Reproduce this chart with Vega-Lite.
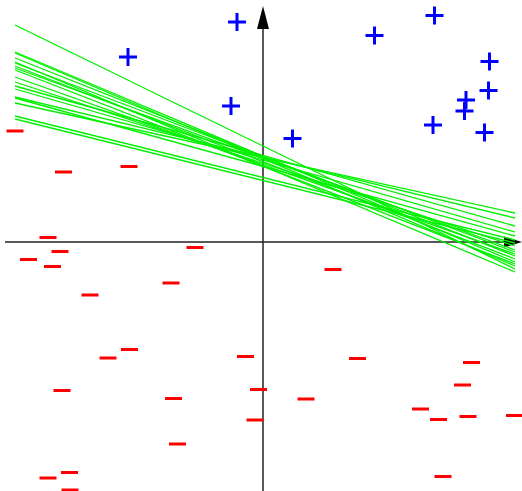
{
  "$schema": "https://vega.github.io/schema/vega-lite/v6.json",
  "width": 522,
  "height": 491,
  "autosize": {"type": "none"},
  "padding": 0,
  "background": "white",
  "config": {"view": {"stroke": null}},
  "datasets": {
    "axes": [
      {"x": -5.16, "x2": 4.84, "y": 0, "y2": 0},
      {"x": 0, "x2": 0, "y": -4.98, "y2": 4.28}
    ],
    "arrowUp": [{"x": 0, "y": 4.49}],
    "arrowRight": [{"x": 5.0, "y": 0}],
    "lines": [
      {"id": 1, "x": -4.96, "y": 4.34}, {"id": 1, "x": 5.04, "y": -0.54},
      {"id": 2, "x": -4.96, "y": 3.80}, {"id": 2, "x": 5.04, "y": -0.40},
      {"id": 3, "x": -4.96, "y": 3.78}, {"id": 3, "x": 5.04, "y": -0.48},
      {"id": 4, "x": -4.96, "y": 3.68}, {"id": 4, "x": 5.04, "y": -0.28},
      {"id": 5, "x": -4.96, "y": 3.60}, {"id": 5, "x": 5.04, "y": -0.60},
      {"id": 6, "x": -4.96, "y": 3.58}, {"id": 6, "x": 5.04, "y": -0.20},
      {"id": 7, "x": -4.96, "y": 3.52}, {"id": 7, "x": 5.04, "y": -0.34},
      {"id": 8, "x": -4.96, "y": 3.48}, {"id": 8, "x": 5.04, "y": -0.16},
      {"id": 9, "x": -4.96, "y": 3.44}, {"id": 9, "x": 5.04, "y": -0.44},
      {"id": 10, "x": -4.96, "y": 3.30}, {"id": 10, "x": 5.04, "y": -0.24},
      {"id": 11, "x": -4.96, "y": 3.20}, {"id": 11, "x": 5.04, "y": -0.08},
      {"id": 12, "x": -4.96, "y": 3.12}, {"id": 12, "x": 5.04, "y": 0.32},
      {"id": 13, "x": -4.96, "y": 3.06}, {"id": 13, "x": 5.04, "y": 0.20},
      {"id": 14, "x": -4.96, "y": 2.90}, {"id": 14, "x": 5.04, "y": 0.48},
      {"id": 15, "x": -4.96, "y": 2.88}, {"id": 15, "x": 5.04, "y": 0.12},
      {"id": 16, "x": -4.96, "y": 2.78}, {"id": 16, "x": 5.04, "y": 0.58},
      {"id": 17, "x": -4.96, "y": 2.52}, {"id": 17, "x": 5.04, "y": 0.04},
      {"id": 18, "x": -4.96, "y": 2.46}, {"id": 18, "x": 5.04, "y": -0.02}
    ],
    "plus": [
      {"x": -0.52, "y": 4.40}, {"x": -2.70, "y": 3.70}, {"x": -0.64, "y": 2.72},
      {"x": 3.43, "y": 4.53}, {"x": 2.23, "y": 4.13}, {"x": 4.53, "y": 3.61},
      {"x": 4.51, "y": 3.03}, {"x": 4.06, "y": 2.84}, {"x": 4.03, "y": 2.62},
      {"x": 3.40, "y": 2.34}, {"x": 4.43, "y": 2.19}, {"x": 0.59, "y": 2.07}
    ],
    "minus": [
      {"x": -4.96, "y": 2.22}, {"x": -3.99, "y": 1.40}, {"x": -2.68, "y": 1.51},
      {"x": -4.30, "y": 0.09}, {"x": -4.06, "y": -0.19}, {"x": -4.69, "y": -0.35},
      {"x": -4.21, "y": -0.49}, {"x": -1.36, "y": -0.11}, {"x": -1.84, "y": -0.82},
      {"x": -3.46, "y": -1.06}, {"x": -2.67, "y": -2.15}, {"x": -3.10, "y": -2.32},
      {"x": -4.02, "y": -2.97}, {"x": -1.79, "y": -3.13}, {"x": -1.71, "y": -4.04},
      {"x": -3.87, "y": -4.61}, {"x": -4.30, "y": -4.72}, {"x": -3.86, "y": -4.96},
      {"x": -0.35, "y": -2.29}, {"x": -0.09, "y": -2.95}, {"x": -0.16, "y": -3.56},
      {"x": 1.40, "y": -0.55}, {"x": 1.89, "y": -2.33}, {"x": 4.17, "y": -2.41},
      {"x": 3.99, "y": -2.86}, {"x": 0.86, "y": -3.14}, {"x": 3.15, "y": -3.34},
      {"x": 3.51, "y": -3.55}, {"x": 4.10, "y": -3.49}, {"x": 5.03, "y": -3.47},
      {"x": 3.60, "y": -4.69}
    ]
  },
  "encoding": {
    "x": {"field": "x", "type": "quantitative", "axis": null, "scale": {"domain": [-5.26, 5.18], "nice": false, "zero": false}},
    "y": {"field": "y", "type": "quantitative", "axis": null, "scale": {"domain": [-4.98, 4.84], "nice": false, "zero": false}}
  },
  "layer": [
    {
      "data": {"name": "axes"},
      "mark": {"type": "rule", "color": "#222222", "strokeWidth": 1.5},
      "encoding": {
        "x2": {"field": "x2"},
        "y2": {"field": "y2"}
      }
    },
    {
      "data": {"name": "arrowUp"},
      "mark": {"type": "point", "shape": "M0,-1L0.52,1L-0.52,1Z", "size": 529, "filled": true, "color": "#000000", "opacity": 1, "strokeWidth": 0}
    },
    {
      "data": {"name": "arrowRight"},
      "mark": {"type": "point", "shape": "M1,0L-1,0.61L-1,-0.61Z", "size": 324, "filled": true, "color": "#000000", "opacity": 1, "strokeWidth": 0}
    },
    {
      "data": {"name": "lines"},
      "mark": {"type": "line", "color": "#00f000", "strokeWidth": 1.3},
      "encoding": {"detail": {"field": "id", "type": "nominal"}}
    },
    {
      "data": {"name": "plus"},
      "mark": {"type": "point", "shape": "M-1,0L1,0M0,-1L0,1", "size": 324, "filled": false, "color": "#0000ff", "strokeWidth": 3, "opacity": 1}
    },
    {
      "data": {"name": "minus"},
      "mark": {"type": "point", "shape": "M-1,0L1,0", "size": 289, "filled": false, "color": "#ff0000", "strokeWidth": 3, "opacity": 1}
    }
  ]
}
